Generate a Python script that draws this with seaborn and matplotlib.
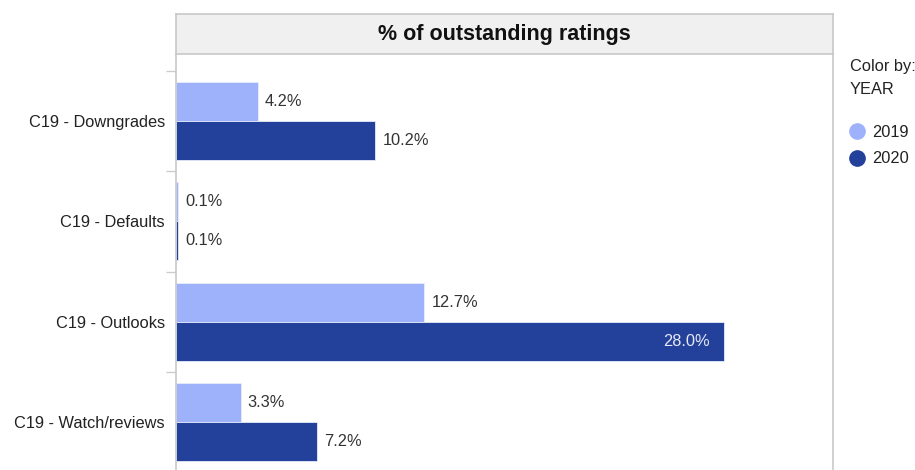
import matplotlib
matplotlib.use("Agg")
import matplotlib.pyplot as plt
from matplotlib.lines import Line2D
import seaborn as sns
import pandas as pd

categories = ["C19 - Downgrades", "C19 - Defaults", "C19 - Outlooks", "C19 - Watch/reviews"]
years = ["2019", "2020"]
values_2019 = [4.2, 0.1, 12.7, 3.3]
values_2020 = [10.2, 0.1, 28.0, 7.2]
colors = {"2019": "#9db2fb", "2020": "#23409b"}
title = "% of outstanding ratings"

df = pd.DataFrame({
    "category": categories * 2,
    "year": ["2019"] * 4 + ["2020"] * 4,
    "value": values_2019 + values_2020,
})

sns.set_style("white")
plt.rcParams["font.family"] = ["Liberation Sans", "DejaVu Sans"]

W, H = 915, 470
fig = plt.figure(figsize=(W / 100, H / 100), dpi=100)
left, right = 176 / W, 833 / W
top_px, head_px, bot_px = 54, 14, 472
ax = fig.add_axes([left, 1 - bot_px / H, right - left, (bot_px - top_px) / H])

sns.barplot(data=df, y="category", x="value", hue="year", orient="h",
            order=categories, hue_order=years, palette=colors, width=0.78,
            saturation=1, edgecolor="#e8ecfa", linewidth=0.6, ax=ax, legend=False)

ax.set_xlim(0, 33.6)
ax.set_ylim(3.5, -0.67)
ax.set_xlabel("")
ax.set_ylabel("")
ax.set_xticks([])
ax.tick_params(axis="y", which="major", left=False, length=0, labelsize=11.8,
               labelcolor="#222222", pad=8)
ax.set_yticks([-0.5, 0.5, 1.5, 2.5], minor=True)
ax.tick_params(axis="y", which="minor", left=True, length=7, color="#cccccc", width=1)
for s in ["top", "bottom"]:
    ax.spines[s].set_visible(False)
for s in ["left", "right"]:
    ax.spines[s].set_color("#c8c8c8")
    ax.spines[s].set_linewidth(1.2)

for cont in ax.containers:
    for p in cont:
        w = p.get_width()
        yc = p.get_y() + p.get_height() / 2
        txt = f"{w:.1f}%"
        if w > 20:
            ax.annotate(txt, (w, yc), xytext=(-10, 0), textcoords="offset points",
                        ha="right", va="center", fontsize=11.8, color="#e6eaf7")
        else:
            ax.annotate(txt, (w, yc), xytext=(5, 0), textcoords="offset points",
                        ha="left", va="center", fontsize=11.8, color="#333333")

hax = fig.add_axes([left, 1 - top_px / H, right - left, (top_px - head_px) / H])
hax.set_facecolor("#f0f0f0")
hax.set_xticks([])
hax.set_yticks([])
for s in hax.spines.values():
    s.set_color("#c8c8c8")
    s.set_linewidth(1.2)
hax.text(0.5, 0.48, title, ha="center", va="center", fontsize=15.5,
         fontweight="bold", color="#111111", transform=hax.transAxes)

fig.text(850 / W, 1 - 67 / H, "Color by:", ha="left", va="center",
         fontsize=11.8, color="#222222")
fig.text(850 / W, 1 - 90 / H, "YEAR", ha="left", va="center",
         fontsize=11.8, color="#222222")

handles = [Line2D([], [], marker="o", linestyle="", markersize=11,
                  markerfacecolor=colors[y], markeredgecolor=colors[y]) for y in years]
leg = fig.legend(handles, years, loc="upper left",
                 bbox_to_anchor=(839 / W, 1 - 118 / H), frameon=False,
                 fontsize=11.8, handletextpad=0.25, labelspacing=0.72,
                 handlelength=1.4, borderaxespad=0)
for t in leg.get_texts():
    t.set_color("#222222")

fig.savefig("out.png", dpi=100)
